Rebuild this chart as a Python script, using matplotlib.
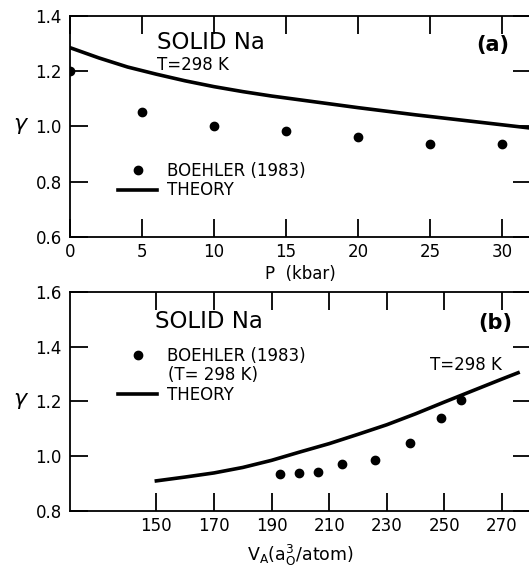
import numpy as np
import matplotlib
matplotlib.use("Agg")
import matplotlib.pyplot as plt

# panel (a): gamma vs pressure
p_exp = [0, 5, 10, 15, 20, 25, 30]
g_exp_p = [1.20, 1.052, 1.001, 0.983, 0.962, 0.937, 0.936]
p_th = [0, 2, 4, 6, 8, 10, 12, 14, 16, 18, 20, 22, 24, 26, 28, 30, 32]
g_th_p = [1.285, 1.248, 1.215, 1.189, 1.165, 1.144, 1.126, 1.110, 1.096,
          1.082, 1.068, 1.055, 1.042, 1.030, 1.018, 1.006, 0.994]

# panel (b): gamma vs atomic volume
v_exp = [192.8, 199.4, 206.1, 214.6, 225.9, 237.9, 249.0, 255.7]
g_exp_v = [0.936, 0.940, 0.944, 0.971, 0.986, 1.049, 1.139, 1.205]
v_th = [150, 160, 170, 180, 190, 200, 210, 220, 230, 240, 250, 260, 270, 275.6]
g_th_v = [0.910, 0.924, 0.939, 0.959, 0.985, 1.016, 1.046, 1.080, 1.115,
          1.155, 1.198, 1.240, 1.282, 1.305]

p_ticks = [0, 5, 10, 15, 20, 25, 30]
v_ticks = [150, 170, 190, 210, 230, 250, 270]

plt.rcParams['font.family'] = 'DejaVu Sans'
fig = plt.figure(figsize=(5.29, 5.67), dpi=100)

ax1 = fig.add_axes([0.1323, 0.582, 0.871, 0.390])
ax2 = fig.add_axes([0.1323, 0.0988, 0.871, 0.3862])

for ax in (ax1, ax2):
    ax.tick_params(direction='in', length=13, width=1.3, top=True, right=True,
                   labelsize=12)
    ax.tick_params(axis='x', pad=4)
    ax.tick_params(axis='y', pad=6)
    for s in ax.spines.values():
        s.set_linewidth(1.3)
    ax.set_ylabel(r'$\gamma$', rotation=0, fontsize=16, labelpad=10, va='center')

# top panel
ax1.plot(p_exp, g_exp_p, 'o', color='black', markersize=6, label='BOEHLER (1983)')
ax1.plot(p_th, g_th_p, '-', color='black', lw=2.6, label='THEORY')
ax1.set_xlim(0, 32)
ax1.set_ylim(0.6, 1.4)
ax1.set_xticks(p_ticks)
ax1.set_yticks([0.6, 0.8, 1.0, 1.2, 1.4])
ax1.set_yticklabels(['0.6', '0.8', '1.0', '1.2', '1.4'])
ax1.set_xlabel('P  (kbar)', fontsize=12, labelpad=3)
ax1.text(0.189, 0.878, 'SOLID Na', transform=ax1.transAxes, fontsize=16.5, va='center')
ax1.text(0.189, 0.778, 'T=298 K', transform=ax1.transAxes, fontsize=12, va='center')
ax1.text(0.918, 0.869, '(a)', transform=ax1.transAxes, fontsize=15, va='center',
         ha='center', fontweight='bold')
ax1.legend(loc='upper left', bbox_to_anchor=(0.105, 0.34), frameon=False,
           fontsize=12, handlelength=2.3, handletextpad=0.6, labelspacing=0.1,
           borderpad=0, borderaxespad=0, numpoints=1)

# bottom panel
ax2.plot(v_exp, g_exp_v, 'o', color='black', markersize=6, label='BOEHLER (1983)')
ax2.plot(v_th, g_th_v, '-', color='black', lw=2.6, label='THEORY')
ax2.set_xlim(120, 280)
ax2.set_ylim(0.8, 1.6)
ax2.set_xticks(v_ticks)
ax2.set_yticks([0.8, 1.0, 1.2, 1.4, 1.6])
ax2.set_yticklabels(['0.8', '1.0', '1.2', '1.4', '1.6'])
ax2.set_xlabel(r'V$_{\mathsf{A}}$(a$_{\mathsf{O}}^{\mathsf{3}}$/atom)', fontsize=12.5, labelpad=6)
ax2.text(0.184, 0.864, 'SOLID Na', transform=ax2.transAxes, fontsize=16.5, va='center')
ax2.text(0.781, 0.667, 'T=298 K', transform=ax2.transAxes, fontsize=12, va='center')
ax2.text(0.922, 0.857, '(b)', transform=ax2.transAxes, fontsize=15, va='center',
         ha='center', fontweight='bold')
ax2.legend(loc='upper left', bbox_to_anchor=(0.105, 0.75), frameon=False,
           fontsize=12, handlelength=2.3, handletextpad=0.6, labelspacing=1.25,
           borderpad=0, borderaxespad=0, numpoints=1)
ax2.text(0.212, 0.622, '(T= 298 K)', transform=ax2.transAxes, fontsize=12, va='center')

fig.savefig('out.png', dpi=100)
